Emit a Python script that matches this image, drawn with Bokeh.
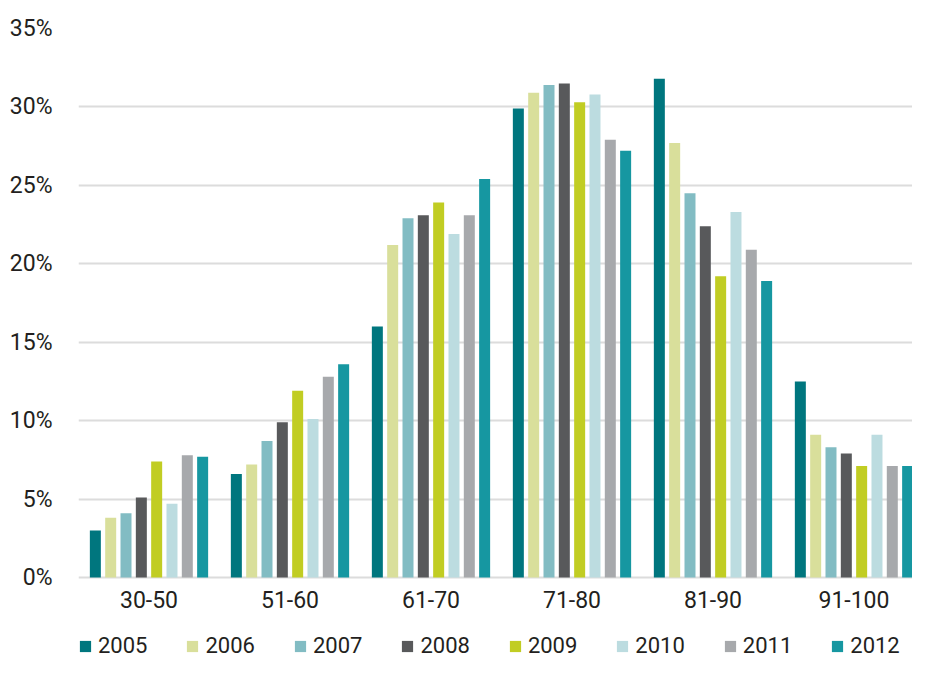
from bokeh.plotting import figure
from bokeh.models import Range1d, FixedTicker, PrintfTickFormatter, Legend, LegendItem, CustomJSTickFormatter
from bokeh.embed import file_html
from bokeh.resources import INLINE

categories = ["30-50", "51-60", "61-70", "71-80", "81-90", "91-100"]
years = ["2005", "2006", "2007", "2008", "2009", "2010", "2011", "2012"]

v2005 = [3.0, 6.6, 16.0, 29.9, 31.8, 12.5]
v2006 = [3.8, 7.2, 21.2, 30.9, 27.7, 9.1]
v2007 = [4.1, 8.7, 22.9, 31.4, 24.5, 8.3]
v2008 = [5.1, 9.9, 23.1, 31.5, 22.4, 7.9]
v2009 = [7.4, 11.9, 23.9, 30.3, 19.2, 7.1]
v2010 = [4.7, 10.1, 21.9, 30.8, 23.3, 9.1]
v2011 = [7.8, 12.8, 23.1, 27.9, 20.9, 7.1]
v2012 = [7.7, 13.6, 25.4, 27.2, 18.9, 7.1]
series = [v2005, v2006, v2007, v2008, v2009, v2010, v2011, v2012]

y_ticks = [0, 5, 10, 15, 20, 25, 30, 35]

colors = ["#00767e", "#d9df9b", "#82bcc3", "#58595b", "#c1cd23", "#bcdce0", "#a7a9ac", "#1697a1"]

FONT = "Roboto"
TXT = "#231f20"

p = figure(x_range=Range1d(0, 5.915), y_range=Range1d(-5.23, 35),
           width=912, height=659, output_backend="svg", toolbar_location=None,
           min_border_left=78, min_border_right=0, min_border_top=28, min_border_bottom=0)
p.outline_line_color = None
p.background_fill_color = "white"
p.border_fill_color = "white"

centers = [j + 0.5 for j in range(len(categories))]
pitch = 0.1087
bw = 0.078
items = []
for i, (yr, vals) in enumerate(zip(years, series)):
    off = (i - 3.5) * pitch
    xs = [c + off for c in centers]
    r = p.vbar(x=xs, top=vals, bottom=0, width=bw, fill_color=colors[i], line_color=None)
    items.append(LegendItem(label=yr, renderers=[r]))

p.xgrid.grid_line_color = None
p.ygrid.grid_line_color = "#dcdcdc"
p.ygrid.grid_line_width = 2
p.ygrid.ticker = FixedTicker(ticks=y_ticks)

p.yaxis.ticker = FixedTicker(ticks=y_ticks)
p.yaxis.formatter = PrintfTickFormatter(format="%d%%")
p.yaxis.axis_line_color = None
p.yaxis.major_tick_line_color = None
p.yaxis.minor_tick_line_color = None
p.yaxis.major_tick_out = 0
p.yaxis.major_tick_in = 0
p.yaxis.major_label_standoff = 26
p.yaxis.major_label_text_font = FONT
p.yaxis.major_label_text_font_size = "23px"
p.yaxis.major_label_text_color = TXT

p.xaxis.fixed_location = 0
p.xaxis.ticker = FixedTicker(ticks=centers)
p.xaxis.formatter = CustomJSTickFormatter(args=dict(cats=categories),
                                          code="const k = Math.floor(tick); return cats[k] || '';")
p.xaxis.axis_line_color = None
p.xaxis.major_tick_line_color = None
p.xaxis.minor_tick_line_color = None
p.xaxis.major_tick_out = 0
p.xaxis.major_tick_in = 0
p.xaxis.major_label_standoff = 14
p.xaxis.major_label_text_font = FONT
p.xaxis.major_label_text_font_size = "23px"
p.xaxis.major_label_text_color = TXT

legend = Legend(items=items, orientation="horizontal", location=(0, 1),
                glyph_width=14, glyph_height=14, label_standoff=6, spacing=38,
                padding=0, margin=0, border_line_color=None, background_fill_alpha=0,
                label_text_font=FONT, label_text_font_size="22px", label_text_color=TXT,
                label_height=14)
p.add_layout(legend, "center")

open("out.html", "w").write(file_html(p, INLINE))
